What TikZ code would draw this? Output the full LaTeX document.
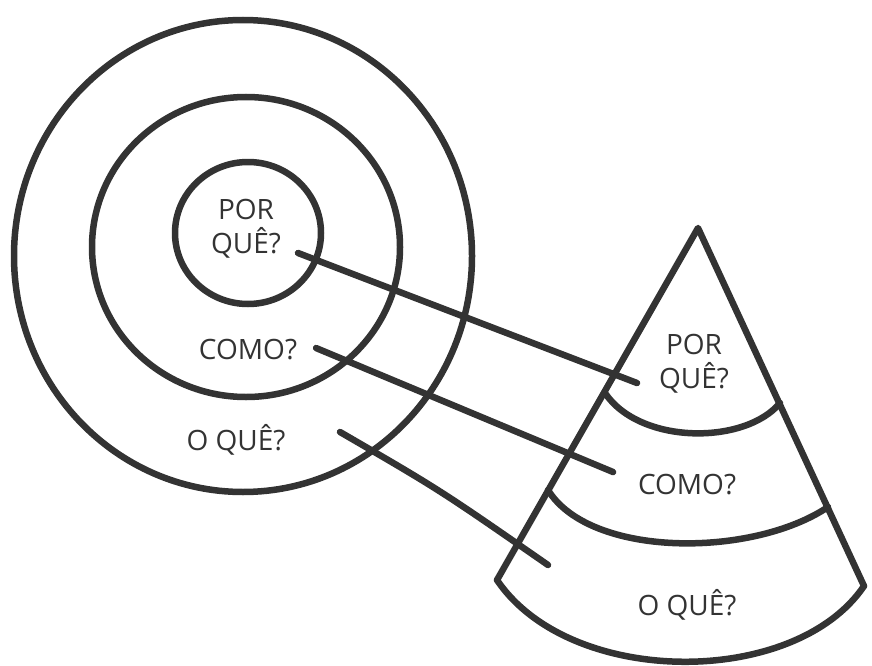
\documentclass[tikz,border=0pt]{standalone}
\usepackage{fontspec}
\setmainfont{Open Sans}
\usetikzlibrary{positioning}
\definecolor{ink}{HTML}{333333}

\begin{document}
\begin{tikzpicture}[x=1pt, y=-1pt, line width=6.5pt, draw=ink, line cap=round, line join=round,
	word/.style={text=ink, font=\fontsize{28}{34}\selectfont, align=center, inner sep=0pt}]
	\useasboundingbox (0, 0) rectangle (872, 666);

	% circles
	\draw[ink] (243, 256) ellipse (229 and 236);
	\draw[ink] (246, 247) ellipse (154 and 150);
	\draw[ink] (248, 233) ellipse (73 and 71);

	\node[word] (whyc) at (246, 229) {POR\\QUÊ?};
	\node[word] (howc) at (248, 350) {COMO?};
	\node[word] (whatc) at (236, 440) {O QUÊ?};

	% cone
	\coordinate (top) at (698, 228);
	\coordinate (bl) at (497, 580);
	\coordinate (br) at (864, 586);
	\draw[ink] (bl) -- (top) -- (br);
	\draw[ink] (bl) .. controls (570, 688) and (795, 688) .. (br);
	\draw[ink] (605, 393) .. controls (640, 445) and (745, 445) .. (780, 403);
	\draw[ink] (548, 490) .. controls (590, 558) and (752, 558) .. (828, 507);

	\node[word] (whyk) at (694, 364) {POR\\QUÊ?};
	\node[word] (howk) at (687, 485) {COMO?};
	\node[word] (whatk) at (687, 605) {O QUÊ?};

	% links
	\coordinate (a1) at (298, 253);
	\coordinate (a2) at (637, 383);
	\coordinate (b1) at (316, 348);
	\coordinate (b2) at (613, 472);
	\coordinate (c1) at (340, 432);
	\coordinate (c2) at (548, 565);
	\draw[ink] (a1) -- (a2);
	\draw[ink] (b1) -- (b2);
	\draw[ink] (c1) .. controls (440, 490) .. (c2);
\end{tikzpicture}
\end{document}
